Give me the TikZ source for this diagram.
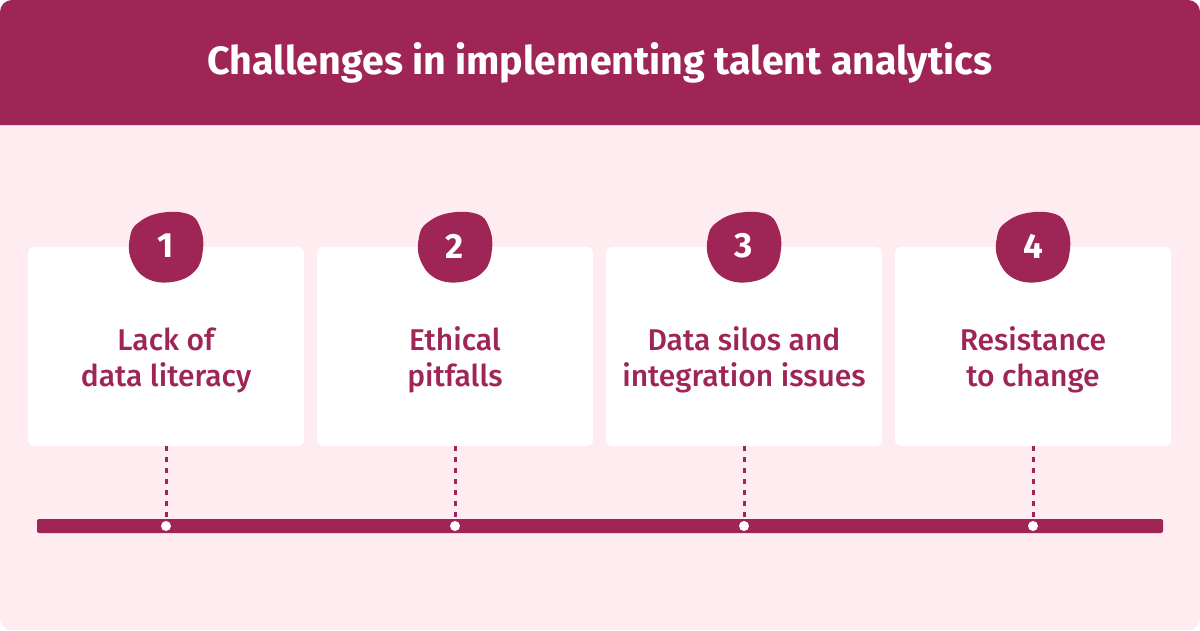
\documentclass[tikz,border=0pt]{standalone}
\usepackage{fontspec}
\setmainfont{Fira Sans}
\newfontfamily\medfont{Fira Sans Medium}
\usetikzlibrary{calc}
\definecolor{berry}{HTML}{9E2556}
\definecolor{blush}{HTML}{FFECF1}
\tikzset{
  card/.style={fill=white, rounded corners=6pt, minimum width=276pt, minimum height=199pt, inner sep=0pt},
  blob/.style={fill=berry},
  label/.style={text=berry, font=\medfont\fontsize{30}{36}\selectfont, align=center},
  numtext/.style={text=white, font=\bfseries\fontsize{35}{36}\selectfont},
  guide/.style={berry, line width=3pt, dash pattern=on 5pt off 6pt},
  track/.style={fill=berry, rounded corners=2pt},
}

\begin{document}
\begin{tikzpicture}[x=1pt,y=-1pt]
  % page and header band
  \fill[white] (0,0) rectangle (1200,630);
  \fill[blush, rounded corners=12pt] (0,0) rectangle (1200,630);
  \fill[berry] (0,125) {[rounded corners=12pt] -- (0,0) -- (1200,0)} -- (1200,125) -- cycle;
  \node[text=white, font=\bfseries\fontsize{39.4}{42}\selectfont] (title) at (600,63) {Challenges in implementing talent analytics};
  % timeline
  \fill[track] (37,519) rectangle (1163,533);
  \foreach \i/\x/\txt in {1/166/{Lack of\\data literacy}, 2/455/{Ethical\\pitfalls},
      3/744/{Data silos and\\integration issues}, 4/1033/{Resistance\\to change}} {
    \node[card] (card\i) at (\x,346.5) {};
    \node[label] (text\i) at (\x,360) {\txt};
    \fill[blob, shift={(\x,247)}] plot[smooth cycle, tension=0.7] coordinates
      {(-28,-24) (-6,-34) (22,-33) (34,-20) (37,2) (29,24) (6,35) (-20,31) (-35,12) (-36,-10)};
    \node[numtext] (num\i) at (\x,246) {\i};
    \node[circle, fill=white, inner sep=0pt, minimum size=10pt] (dot\i) at (\x,526) {};
    \draw[guide] (card\i.south) -- (dot\i.north);
  }
\end{tikzpicture}
\end{document}
